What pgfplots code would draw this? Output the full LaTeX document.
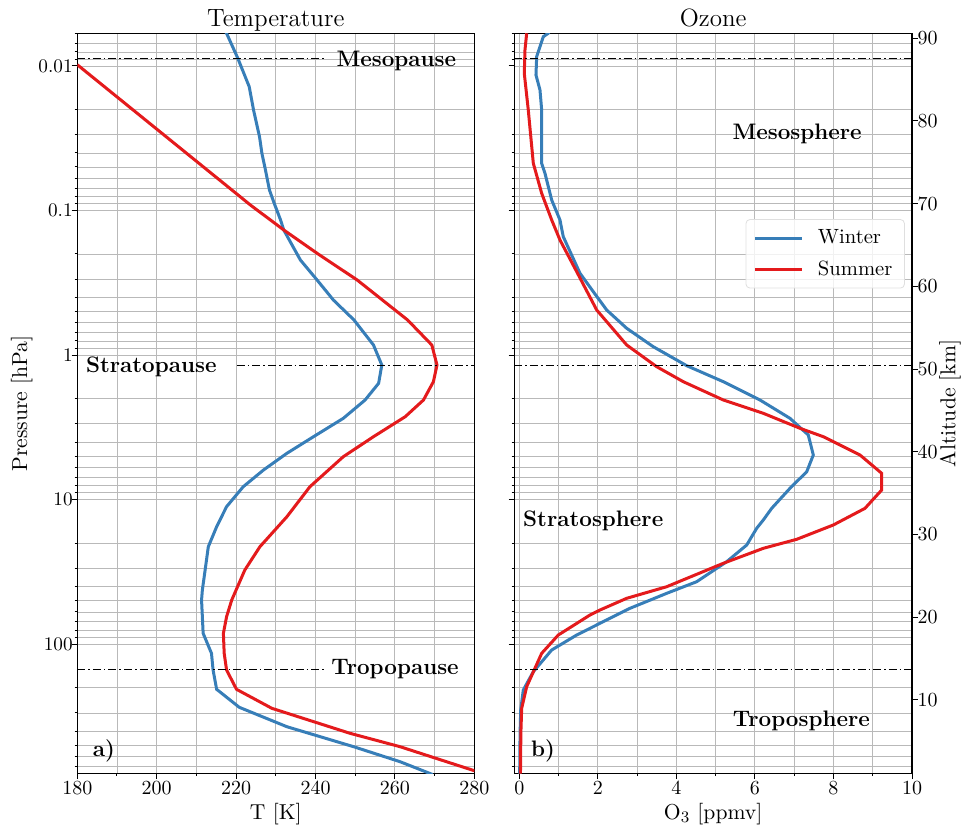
\documentclass[border=0pt]{standalone}
\usepackage{pgfplots}
\pgfplotsset{compat=1.18}
\definecolor{cblue}{HTML}{377EB8}
\definecolor{cred}{HTML}{E41A1C}

\pgfplotstableread{
T p
216.8 0.0055
217.6 0.00594
220.4 0.0088
223.3 0.0139
224.4 0.0202
225.9 0.0309
226.5 0.0402
227.4 0.0525
228.4 0.0721
229.6 0.0892
231.2 0.1163
232.0 0.1364
236.2 0.2202
240.4 0.3027
244.5 0.4163
249.7 0.5726
254.6 0.8527
256.7 1.173
255.9 1.570
252.5 2.048
247.0 2.743
239.5 3.676
232.8 4.788
226.9 6.250
221.8 8.155
217.6 11.21
215.1 15.43
213.0 21.22
212.2 30.75
211.5 42.30
211.3 49.61
211.7 84.35
213.8 116.0
214.2 151.3
215.1 205.8
220.8 274.2
232.8 373.6
249.6 513.6
261.3 652.4
269.5 800
}\TWinter

\pgfplotstableread{
T p
180.0 0.0098
223.6 0.0916
232.0 0.1364
240.4 0.1978
250.5 0.3027
263.2 0.5726
269.3 0.8527
270.6 1.173
269.7 1.530
267.2 2.048
262.6 2.673
254.6 3.676
247.0 5.057
238.6 8.155
232.8 13.15
226.0 21.22
222.2 30.75
218.9 49.61
217.6 64.73
216.8 84.35
217.0 116.0
217.6 151.3
220.1 205.8
229.0 278.6
248.7 415.0
261.3 513.6
280.0 753.1
282.0 790
}\TSummer

\pgfplotstableread{
O p
0.78 0.0057
0.738 0.00594
0.611 0.00627
0.443 0.00862
0.425 0.01154
0.527 0.01466
0.570 0.02016
0.570 0.04713
0.654 0.05529
0.825 0.08460
1.036 0.1163
1.120 0.1518
1.546 0.2720
1.884 0.3646
2.226 0.4882
2.735 0.6535
3.412 0.8762
4.263 1.186
5.195 1.530
6.129 2.048
6.893 2.743
7.359 3.578
7.487 4.920
7.319 6.423
6.893 8.366
6.427 11.51
6.213 13.87
6.045 15.82
5.791 20.65
5.281 26.94
4.517 37.06
3.754 44.59
2.819 56.61
2.055 71.89
1.462 86.66
0.825 110.0
0.357 155.5
0.102 208.1
0.036 286.2
0.02 415.0
0.01 790
}\OWinter

\pgfplotstableread{
O p
0.188 0.00594
0.145 0.00775
0.127 0.01123
0.229 0.02016
0.357 0.04713
0.570 0.07603
0.825 0.1163
1.036 0.1600
1.462 0.2652
1.971 0.4882
2.735 0.8527
3.499 1.205
4.176 1.530
5.195 2.048
6.213 2.532
7.148 3.216
7.741 3.676
8.676 4.920
9.228 6.589
9.228 8.595
8.803 11.51
7.996 15.01
7.064 18.86
6.213 21.77
5.195 27.64
3.754 40.13
2.735 48.28
2.055 58.17
1.800 63.00
0.993 86.66
0.570 116.0
0.188 197.5
0.061 278.6
0.04 415.0
0.03 790
}\OSummer

\tikzset{
  ddline/.style={black, line width=0.65pt, dash pattern=on 4pt off 1.5pt on 0.8pt off 1.5pt},
  lbltext/.style={anchor=base west, inner sep=0pt, font=\bfseries\fontsize{11.2}{13}\selectfont},
}

\begin{document}
\begin{tikzpicture}
\path[use as bounding box] (0,0) rectangle (482.5pt,-414pt);

\begin{axis}[scale only axis, width=198.5pt, height=370.1pt,
  at={(38.65pt,-386.75pt)}, anchor=south west,
  ymode=log, y dir=reverse, ymin=0.00594, ymax=787.5,
  xmin=180, xmax=280,
  xtick={180,200,...,280}, minor xtick={190,210,...,270},
  ytick={0.01,0.1,1,10,100},
  minor ytick={0.006,0.007,0.008,0.009,0.02,0.03,0.04,0.05,0.06,0.07,0.08,0.09,0.2,0.3,0.4,0.5,0.6,0.7,0.8,0.9,2,3,4,5,6,7,8,9,20,30,40,50,60,70,80,90,200,300,400,500,600,700},
  yticklabels={0.01,0.1,1,10,100},
  grid=both,
  major grid style={gray!55, line width=0.45pt},
  minor grid style={gray!55, line width=0.45pt},
  tick align=outside, major tick length=2.8pt, minor tick length=1.3pt,
  xtick pos=bottom, ytick pos=left,
  axis line style={line width=0.6pt},
  tick style={black, line width=0.5pt},
  ticklabel style={font=\fontsize{9.6}{11}\selectfont},
  yticklabel style={xshift=4pt},
  xticklabel style={yshift=2.5pt},
  title={Temperature}, xlabel={T [K]}, ylabel={Pressure [hPa]},
  title style={font=\fontsize{12.5}{15}\selectfont, at={(0.5,1)}, anchor=base, yshift=-2.8pt},
  xlabel style={font=\fontsize{10.8}{13}\selectfont, at={(0.5,0)}, anchor=base, yshift=-22.75pt},
  ylabel style={font=\fontsize{10.8}{13}\selectfont, at={(-0.14,0.5)}, anchor=center},
]
\addplot[cblue, line width=1.5pt] table[x=T, y=p] {\TWinter};
\addplot[cred, line width=1.5pt] table[x=T, y=p] {\TSummer};
\addplot[ddline, forget plot] coordinates {(180,0.00885) (242.4,0.00885)};
\addplot[ddline, forget plot] coordinates {(220.2,1.186) (280,1.186)};
\addplot[ddline, forget plot] coordinates {(180,149.6) (242.4,149.6)};
\node[lbltext] at (axis cs:245.2,0.01008) {Mesopause};
\node[lbltext] at (axis cs:182.1,1.32) {Stratopause};
\node[lbltext] at (axis cs:243.9,161.3) {Tropopause};
\node[lbltext] at (axis cs:183.8,602.5) {a)};
\end{axis}

\begin{axis}[scale only axis, width=198.85pt, height=370.1pt,
  at={(257.15pt,-386.75pt)}, anchor=south west,
  ymode=log, y dir=reverse, ymin=0.00594, ymax=787.5,
  xmin=-0.127, xmax=10,
  xtick={0,2,...,10}, minor xtick={1,3,...,9},
  ytick={0.01,0.1,1,10,100},
  minor ytick={0.006,0.007,0.008,0.009,0.02,0.03,0.04,0.05,0.06,0.07,0.08,0.09,0.2,0.3,0.4,0.5,0.6,0.7,0.8,0.9,2,3,4,5,6,7,8,9,20,30,40,50,60,70,80,90,200,300,400,500,600,700},
  yticklabels={},
  grid=both,
  major grid style={gray!55, line width=0.45pt},
  minor grid style={gray!55, line width=0.45pt},
  tick align=outside, major tick length=2.8pt, minor tick length=1.3pt,
  xtick pos=bottom, ytick pos=left,
  axis line style={line width=0.6pt},
  tick style={black, line width=0.5pt},
  ticklabel style={font=\fontsize{9.6}{11}\selectfont},
  xticklabel style={yshift=2.5pt},
  title={Ozone}, xlabel={O$_3$ [ppmv]},
  title style={font=\fontsize{12.5}{15}\selectfont, at={(0.5,1)}, anchor=base, yshift=-2.8pt},
  xlabel style={font=\fontsize{10.8}{13}\selectfont, at={(0.5,0)}, anchor=base, yshift=-22.75pt},
  legend style={at={(0.982,0.749)}, anchor=north east, draw=gray!25, rounded corners=2pt,
    fill=white, fill opacity=0.8, text opacity=1, font=\fontsize{10.3}{12}\selectfont,
    row sep=3pt, inner xsep=4pt, inner ysep=3pt},
  legend cell align=left,
  legend image code/.code={\draw[#1] (0pt,0pt) -- (23.5pt,0pt); \path (28.5pt,0pt);},
]
\addplot[cblue, line width=1.5pt] table[x=O, y=p] {\OWinter};
\addlegendentry{Winter}
\addplot[cred, line width=1.5pt] table[x=O, y=p] {\OSummer};
\addlegendentry{Summer}
\addplot[ddline, forget plot] coordinates {(-0.127,0.00885) (10,0.00885)};
\addplot[ddline, forget plot] coordinates {(-0.127,1.186) (10,1.186)};
\addplot[ddline, forget plot] coordinates {(-0.127,149.6) (10,149.6)};
\node[lbltext] at (axis cs:5.42,0.0325) {Mesosphere};
\node[lbltext] at (axis cs:0.09,15.26) {Stratosphere};
\node[lbltext] at (axis cs:5.43,369.4) {Troposphere};
\node[lbltext] at (axis cs:0.29,602.5) {b)};
\end{axis}

\begin{axis}[scale only axis, width=198.85pt, height=370.1pt,
  at={(257.15pt,-386.75pt)}, anchor=south west,
  xmin=0, xmax=1, ymin=1.11, ymax=90.6,
  hide x axis, axis y line*=right,
  ytick={10,20,...,90},
  tick align=outside, major tick length=2.8pt,
  axis line style={line width=0.6pt},
  tick style={black, line width=0.5pt},
  ticklabel style={font=\fontsize{9.6}{11}\selectfont},
  yticklabel style={xshift=-3.5pt},
  ylabel={Altitude [km]},
  ylabel style={font=\fontsize{10.8}{13}\selectfont, at={(1.0955,0.5)}, anchor=center},
]
\end{axis}
\end{tikzpicture}
\end{document}
